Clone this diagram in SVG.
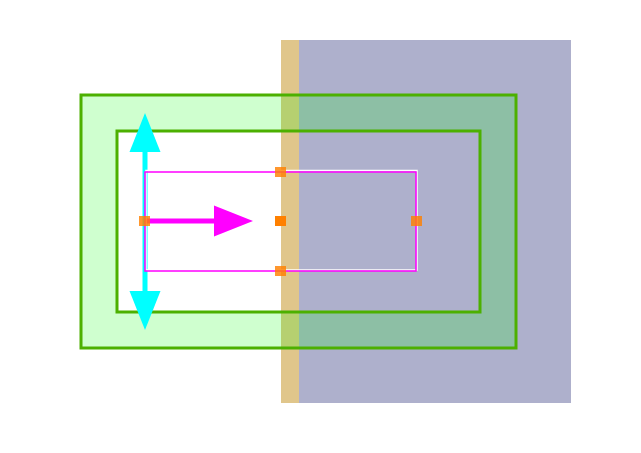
<svg xmlns="http://www.w3.org/2000/svg" width="641" height="453" viewBox="0 0 641 453">
<style>
.frame{fill:#00ff00;fill-opacity:0.19;fill-rule:evenodd;stroke:none}
.gline{fill:none;stroke:#4cb000;stroke-width:3}
.handle{fill:#ff8000}
.handle.t{fill-opacity:0.82}
</style>
<rect width="641" height="453" fill="#ffffff"/>
<g id="regions">
<rect x="281" y="40" width="18" height="363" fill="#e0c68b"/>
<rect x="299" y="40" width="272" height="363" fill="#aeb0cc"/>
</g>
<g id="frame">
<path class="frame" d="M81,95 H516 V348 H81 Z M117,131 V312 H480 V131 Z"/>
<rect class="gline" x="81" y="95" width="435" height="253"/>
<rect class="gline" x="117" y="131" width="363" height="181"/>
</g>
<g id="connectors">
<path d="M142.5,152 H147.5 V291 H142.5 Z" fill="#00ffff"/>
<path d="M145,113 L160.5,152 H129.5 Z" fill="#00ffff"/>
<path d="M145,330 L160.5,291 H129.5 Z" fill="#00ffff"/>
<path d="M145,218.5 H214 V223.5 H145 Z" fill="#ff00ff"/>
<path d="M253,221 L214,205.5 V236.5 Z" fill="#ff00ff"/>
</g>
<g id="selection">
<rect x="146" y="170.5" width="271" height="99.5" fill="none" stroke="#ffffff" stroke-width="1.5"/>
<rect x="145" y="172" width="271" height="99" fill="none" stroke="#ff00ff" stroke-width="1.5"/>
</g>
<g id="handles">
<rect class="handle t" x="139" y="216" width="11" height="10"/>
<rect class="handle t" x="275" y="167" width="11" height="10"/>
<rect class="handle" x="275" y="216" width="11" height="10"/>
<rect class="handle t" x="275" y="266" width="11" height="10"/>
<rect class="handle t" x="411" y="216" width="11" height="10"/>
</g>
</svg>
